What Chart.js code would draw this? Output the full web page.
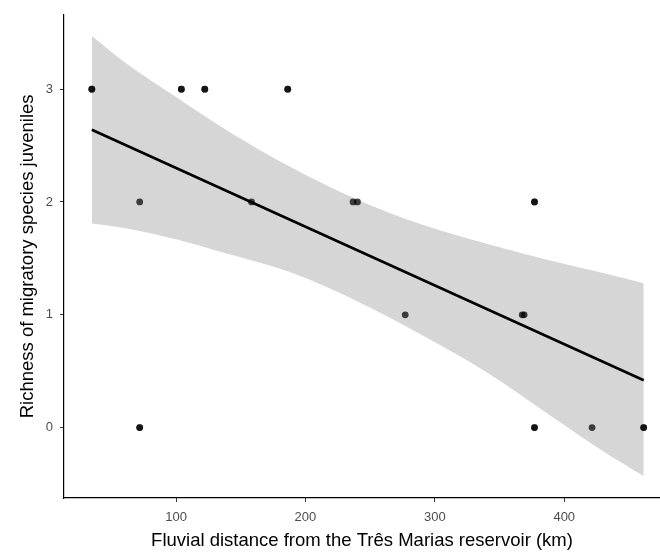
<!DOCTYPE html>
<html>
<head>
<meta charset="utf-8">
<script src="https://cdn.jsdelivr.net/npm/chart.js@4/dist/chart.umd.min.js"></script>
<style>
  html, body { margin: 0; padding: 0; background: #fff; }
  #plot { display: block; }
</style>
</head>
<body>
<canvas id="plot" width="660" height="555"></canvas>
<script>
// sampling sites: distance downstream of the dam and number of migratory species caught
const distanceKm = [34.9, 34.9, 104.1, 104.1, 122.2, 122.2, 186.3, 186.3,
                    71.9, 158.3, 236.8, 240.2, 377.0, 377.0,
                    277.1, 367.5, 369.0,
                    71.9, 71.9, 377.0, 377.0, 421.5, 461.4, 461.4];
const richness   = [3, 3, 3, 3, 3, 3, 3, 3,
                    2, 2, 2, 2, 2, 2,
                    1, 1, 1,
                    0, 0, 0, 0, 0, 0, 0];

// linear fit and its 95% band
const fitKm = [34.9, 461.4];
const fitRichness = [2.64, 0.42];
const bandKm    = [34.9, 60, 100, 140, 190, 240, 290, 340, 390, 430, 461.4];
const bandUpper = [3.47, 3.24, 2.93, 2.63, 2.30, 2.02, 1.80, 1.63, 1.48, 1.37, 1.28];
const bandLower = [1.81, 1.77, 1.67, 1.54, 1.37, 1.12, 0.82, 0.49, 0.10, -0.21, -0.43];

const xTicks = [100, 200, 300, 400];
const yTicks = [0, 1, 2, 3];

const pairs = (xs, ys) => xs.map((x, i) => ({ x: x, y: ys[i] }));

const tickFont = { family: 'Liberation Sans, Arial, sans-serif', size: 13 };
const titleFont = { family: 'Liberation Sans, Arial, sans-serif', size: 18.5 };

new Chart(document.getElementById('plot'), {
    type: 'line',
    data: {
        datasets: [
            {
                data: pairs(fitKm, fitRichness),
                borderColor: '#000',
                borderWidth: 2.6,
                pointRadius: 0,
                fill: false,
                order: 0
            },
            {
                data: pairs(distanceKm, richness),
                showLine: false,
                pointRadius: 3.4,
                pointBorderWidth: 0,
                pointBackgroundColor: 'rgba(0,0,0,0.72)',
                order: 1
            },
            {
                data: pairs(bandKm, bandUpper),
                borderWidth: 0,
                pointRadius: 0,
                cubicInterpolationMode: 'monotone',
                backgroundColor: 'rgba(153,153,153,0.4)',
                fill: '+1',
                order: 2
            },
            {
                data: pairs(bandKm, bandLower),
                borderWidth: 0,
                pointRadius: 0,
                cubicInterpolationMode: 'monotone',
                fill: false,
                order: 3
            }
        ]
    },
    options: {
        responsive: false,
        animation: false,
        devicePixelRatio: 1,
        layout: { autoPadding: false, padding: { top: 10, left: 0, right: 0, bottom: 0 } },
        plugins: {
            legend: { display: false },
            tooltip: { enabled: false }
        },
        scales: {
            x: {
                type: 'linear',
                min: 13.4,
                max: 474,
                afterBuildTicks: s => { s.ticks = xTicks.map(v => ({ value: v })); },
                afterFit: s => { s.height = 57; s.paddingLeft = 0; s.paddingRight = 0; },
                border: { display: true, color: '#000', width: 1.2 },
                grid: { drawOnChartArea: false, drawTicks: true, tickLength: 4, color: '#333' },
                ticks: { color: '#4d4d4d', font: tickFont, padding: 8, maxRotation: 0 },
                title: {
                    display: true,
                    text: 'Fluvial distance from the Três Marias reservoir (km)',
                    color: '#000',
                    font: titleFont,
                    padding: { top: 0, bottom: 3 }
                }
            },
            y: {
                type: 'linear',
                min: -0.624,
                max: 3.659,
                afterBuildTicks: s => { s.ticks = yTicks.map(v => ({ value: v })); },
                afterFit: s => { s.width = 64; },
                border: { display: true, color: '#000', width: 1.2 },
                grid: { drawOnChartArea: false, drawTicks: true, tickLength: 4, color: '#333' },
                ticks: { color: '#4d4d4d', font: tickFont, padding: 7 },
                title: {
                    display: true,
                    text: 'Richness of migratory species juveniles',
                    color: '#000',
                    font: titleFont,
                    padding: { top: 17, bottom: 0 }
                }
            }
        }
    }
});
</script>
</body>
</html>
